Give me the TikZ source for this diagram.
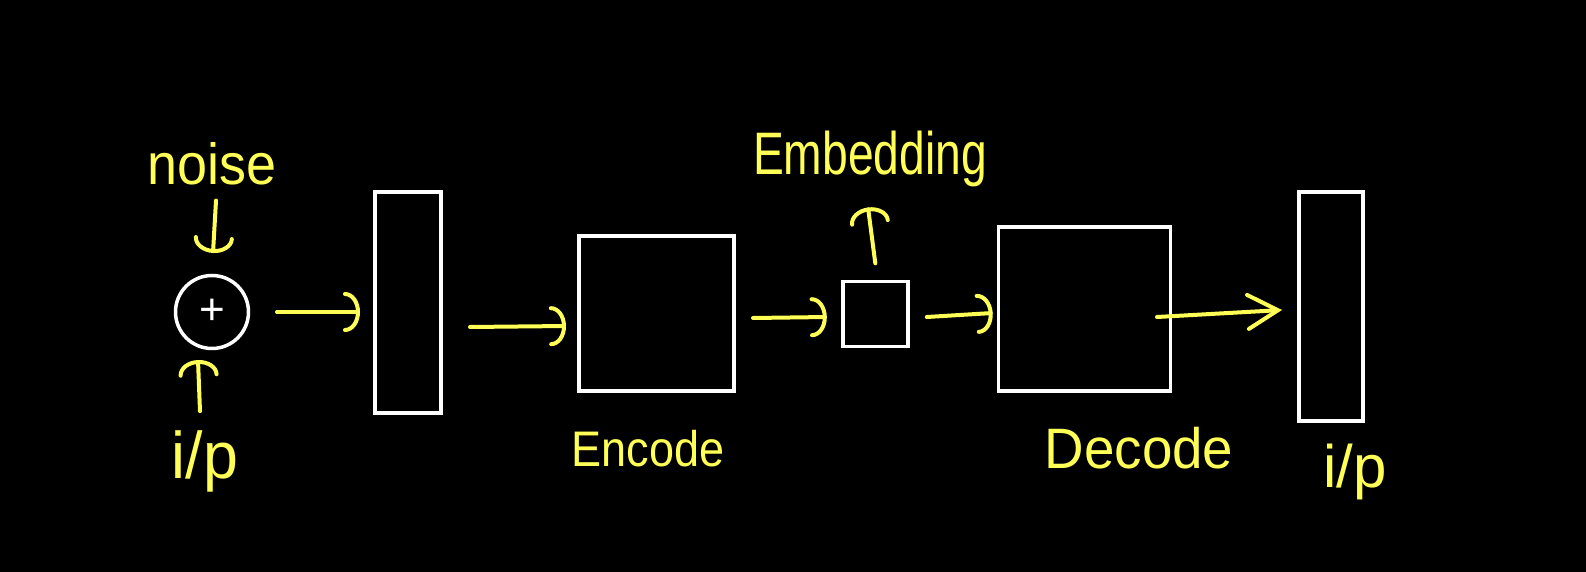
\documentclass[tikz,border=0pt]{standalone}
\usepackage{fontspec}
\setmainfont{Liberation Sans}
\usetikzlibrary{arrows.meta,calc}
\definecolor{hlyellow}{RGB}{255,255,85}
\begin{document}
\begin{tikzpicture}[x=1pt,y=-1pt,
  box/.style={draw=white, line width=3.5pt, inner sep=0pt, outer sep=0pt},
  lbl/.style={text=hlyellow, inner sep=0pt, outer sep=0pt, anchor=base},
  arr/.style={draw=hlyellow, line width=4pt, line cap=round,
    -{Arc Barb[length=15pt,width=40pt,line cap=round]}},
  arrb/.style={draw=hlyellow, line width=4pt, line cap=round,
    -{Straight Barb[length=30pt,width=34pt,line cap=round]}}]
\fill[black] (0,0) rectangle (1586,572);
% blocks
\node[circle, draw=white, line width=3.5pt, minimum size=73pt, inner sep=0pt, outer sep=0pt, text=white]
  (sum) at (212,312) {\raisebox{-3pt}{\fontsize{44}{44}\selectfont +}};
\node[box, minimum width=66pt, minimum height=221pt] (r1) at (408,302.5) {};
\node[box, minimum width=155pt, minimum height=155pt] (enc) at (656.5,313.5) {};
\node[box, minimum width=65pt, minimum height=65pt] (emb) at (875.3,313.8) {};
\node[box, minimum width=172pt, minimum height=164pt] (dec) at (1084.7,309) {};
\node[box, minimum width=64pt, minimum height=229pt] (r2) at (1331,306.7) {};
% labels
\node[lbl] (noise) at (212,185) {\fontsize{58}{58}\selectfont\scalebox{0.93}[1]{noise}};
\node[lbl] (encl) at (648,466) {\fontsize{50}{50}\selectfont\scalebox{0.9}[1]{Encode}};
\node[lbl] (decl) at (1139,468) {\fontsize{57}{57}\selectfont\scalebox{0.96}[1]{Decode}};
\node[lbl] (embl) at (870,175) {\fontsize{60}{60}\selectfont\scalebox{0.77}[1]{Embedding}};
\node[lbl] (ipin) at (205,478) {\fontsize{66}{66}\selectfont\scalebox{0.95}[1]{i/p}};
\node[lbl] (ipout) at (1355,487) {\fontsize{60}{60}\selectfont i/p};
% connectors
\draw[arr] ($(sum.east)+(28.5,0)$) -- ($(sum.east -| r1.west)+(-15,0)$);
\draw[arr] ($(r1.east)+(29,24.5)$) -- ($(r1.east -| enc.west)+(-13,23.5)$);
\draw[arr] ($(enc.east)+(19,4.5)$) -- ($(enc.east -| emb.west)+(-16,3.5)$);
\draw[arr] ($(emb.east)+(19,3.2)$) -- ($(emb.east -| dec.west)+(-6,-0.8)$);
\draw[arrb] ($(dec.east)+(-13.7,8)$) -- ($(dec.east -| r2.west)+(-17,1)$);
\draw[arr] ($(noise.south)+(4,15)$) -- ($(sum.north)+(1,-22.5)$);
\draw[arr] ($(ipin.north)+(-5,-19)$) -- ($(sum.south)+(-14,11.5)$);
\draw[arr] ($(emb.north)+(0,-18)$) -- ($(embl.south)+(-2,20)$);
\end{tikzpicture}
\end{document}
